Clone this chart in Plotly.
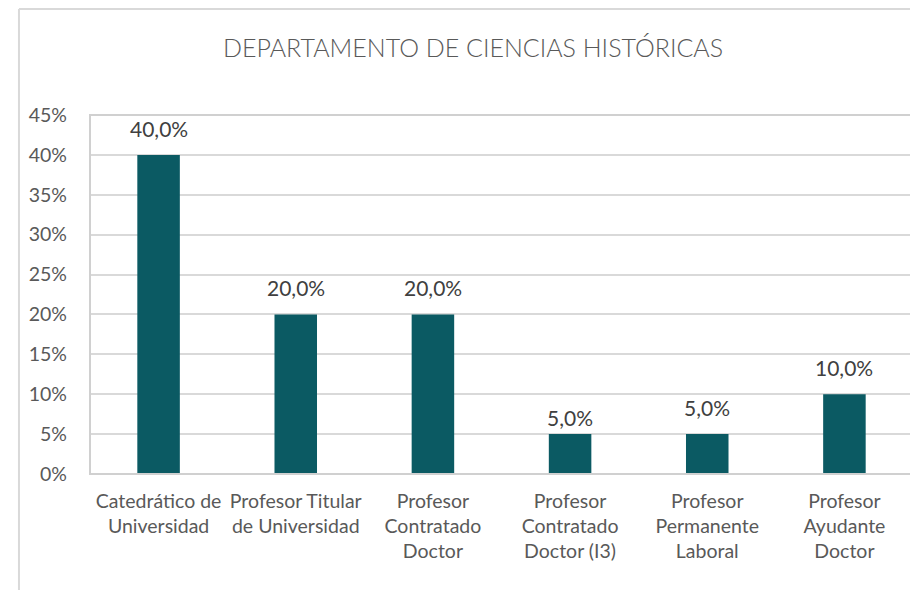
import plotly.graph_objects as go

categories = ["Catedrático de<br>Universidad", "Profesor Titular<br>de Universidad",
              "Profesor<br>Contratado<br>Doctor", "Profesor<br>Contratado<br>Doctor (I3)",
              "Profesor<br>Permanente<br>Laboral", "Profesor<br>Ayudante<br>Doctor"]
values = [0.40, 0.20, 0.20, 0.05, 0.05, 0.10]
labels = ["40,0%", "20,0%", "20,0%", "5,0%", "5,0%", "10,0%"]
label_shift = [0, 0, 0, -10, 0, 0]
tick_vals = [0, 0.05, 0.10, 0.15, 0.20, 0.25, 0.30, 0.35, 0.40, 0.45]
tick_text = ["0%", "5%", "10%", "15%", "20%", "25%", "30%", "35%", "40%", "45%"]

FONT = "Lato"
GREY = "#595959"

fig = go.Figure()
fig.add_trace(go.Bar(x=categories, y=values, marker_color="#0B5A63",
                     marker_line_width=0, width=0.31, hoverinfo="skip"))

for c, v, t, s in zip(categories, values, labels, label_shift):
    fig.add_annotation(x=c, y=v, text=t, showarrow=False, yanchor="bottom",
                       yshift=12 + s, font=dict(family=FONT, size=21, color="#404040"))

fig.update_layout(
    width=910, height=582,
    margin=dict(l=82, r=5, t=107, b=116),
    paper_bgcolor="white", plot_bgcolor="white",
    showlegend=False,
    title=dict(text="DEPARTAMENTO DE CIENCIAS HISTÓRICAS", x=0.511, xanchor="center",
               y=0.931, yanchor="middle",
               font=dict(family="Lato Light, Lato", size=25, color=GREY)),
    xaxis=dict(showgrid=False, tickfont=dict(family=FONT, size=19.5, color=GREY),
               showline=False, ticks="", ticklabelstandoff=13),
    yaxis=dict(range=[0, 0.45], tickvals=tick_vals, ticktext=tick_text,
               showgrid=True, gridcolor="#d9d9d9", gridwidth=1.5,
               zeroline=False, showline=False, ticks="",
               tickfont=dict(family=FONT, size=19.5, color=GREY), ticklabelstandoff=22),
    shapes=[
        dict(type="rect", xref="paper", yref="paper", x0=0, x1=1, y0=0, y1=1,
             line=dict(color="#d0d0d0", width=2), layer="above"),
        dict(type="line", xref="paper", yref="paper", x0=-0.0863, x1=-0.0863, y0=-0.5, y1=1.295,
             line=dict(color="#d9d9d9", width=2)),
        dict(type="line", xref="paper", yref="paper", x0=-0.0863, x1=1.2, y0=1.295, y1=1.295,
             line=dict(color="#d9d9d9", width=2)),
    ],
)

fig.write_html("out.html")
